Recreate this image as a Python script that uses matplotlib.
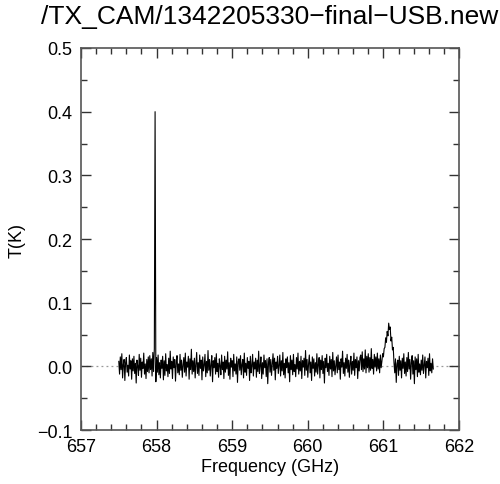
import matplotlib
matplotlib.use("Agg")
import matplotlib.pyplot as plt
import numpy as np
from matplotlib.ticker import MultipleLocator

plt.rcParams['font.family'] = ['Liberation Sans', 'DejaVu Sans']

title = "/TX_CAM/1342205330\u2212final\u2212USB.new"

# channel grid of the spectrum (GHz)
freq_start = 657.50
freq_step = 0.01

# antenna temperature per channel, in mK
t_mk = [
    8, -12, 15, -5, 20, -18, 3, 11, -22, 6, 14, -9, 2, -15, 18, -4, 9, -20, 12, -7,
    16, -11, 5, -26, 10, 1, -14, 19, -6, 13, -17, 7, -3, 21, -12, 4, -19, 11, -8, 15,
    -10, 17, -5, 12, -15, 22, -8, 28, 400, -24, 14, -9, 18, -13, 6, -18, 10, -3, 16, -21,
    9, -14, 20, -7, 3, -16, 13, -11, 24, -4, 8, -19, 15, -2, 11, -23, 6, 17, -10, 4,
    -13, 19, -6, 10, -17, 2, 14, -9, 21, -15, 7, -1, 16, -20, 12, -5, 27, -12, 9, -8,
    13, -18, 4, 22, -11, 6, -14, 18, -3, 10, -21, 15, -7, 2, 19, -16, 8, -10, 25, -6,
    11, -15, 3, 17, -24, 9, -2, 14, -12, 20, -8, 5, -17, 12, 1, -13, 18, -5, 7, -19,
    16, -9, 10, -4, 23, -14, 6, -20, 13, -1, 9, -16, 19, -7, 4, -12, 15, -25, 8, 12,
    -6, 17, -13, 3, 11, -18, 21, -9, 5, -14, 14, -3, 8, -22, 16, -10, 2, 19, -15, 7,
    -4, 13, -17, 10, -8, 24, -11, 1, 15, -19, 6, -12, 18, -2, 9, -16, 12, -27, 5, 14,
    -9, 11, -14, 4, 20, -6, 13, -21, 7, -3, 16, -11, 2, 18, -15, 9, -7, 22, -13, 5,
    -18, 12, -2, 15, -10, 6, -24, 17, -5, 10, -13, 19, -8, 3, -16, 14, -4, 21, -12, 8,
    -7, 16, -19, 9, -1, 13, -14, 25, -6, 11, -17, 4, 18, -10, 7, -22, 15, -3, 12, -15,
    6, -9, 20, -12, 3, 14, -18, 10, -5, 17, -11, 8, -26, 13, -2, 19, -8, 5, -14, 16,
    -4, 11, -16, 22, -7, 9, -13, 2, 15, -10, 18, -5, 7, -20, 12, -1, 24, -11, 6, -15,
    13, -3, 19, -9, 10, -17, 5, 16, -12, 8, -6, 21, -14, 11, -2, 15, -19, 9, -7, 14,
    18, -5, 23, -8, 12, -4, 26, -10, 16, -2, 20, -9, 14, -6, 28, -3, 11, -12, 19, -1,
    15, -7, 21, -4, 12, -10, 18, -2, 8, 20, 15, 28, 30, 45, 38, 55, 48, 68, 58, 62,
    40, 46, 26, 30, 6, -10, 12, -25, 4, 10, -14, 16, -6, 9, -18, 13, -3, 20, -11, 7,
    -15, 14, -8, 22, -4, 11, -20, 6, 17, -12, 9, -27, 15, -5, 12, -16, 19, -9, 4, -13,
    10, -6, 18, -11, 3, 15, -18, 8, -2, 13, -14, 20, -7, 5, -10, 12, -4,
]

temp = np.array(t_mk) / 1000.0
freq = freq_start + freq_step * np.arange(len(temp))

fig = plt.figure(figsize=(5.0, 4.85), dpi=100)
ax = fig.add_axes([0.162, 0.111, 0.756, 0.788])

ax.axhline(0.0, color="#999999", lw=0.9, ls=(0, (1.5, 2.5)), zorder=1)
ax.plot(freq, temp, color="black", lw=0.8, zorder=2)

ax.set_xlim(657, 662)
ax.set_ylim(-0.1, 0.5)
ax.xaxis.set_major_locator(MultipleLocator(1))
ax.xaxis.set_minor_locator(MultipleLocator(0.2))
ax.yaxis.set_major_locator(MultipleLocator(0.1))
ax.yaxis.set_minor_locator(MultipleLocator(0.05))
ax.yaxis.set_major_formatter(plt.FuncFormatter(lambda v, p: ("%.1f" % v).replace("-", "\u2212")))

ax.tick_params(which="both", direction="in", top=True, right=True,
               colors="#333333", labelcolor="black", labelsize=13, width=1)
ax.tick_params(which="major", length=7, pad=6)
ax.tick_params(which="minor", length=4)
for s in ax.spines.values():
    s.set_color("#555555")
    s.set_linewidth(1.2)

ax.set_xlabel("Frequency (GHz)", fontsize=13, labelpad=2)
ax.set_ylabel("T(K)", fontsize=13, labelpad=8)
fig.text(0.54, 0.965, title, fontsize=19, ha="center", va="center")

fig.savefig("out.png", dpi=100)
